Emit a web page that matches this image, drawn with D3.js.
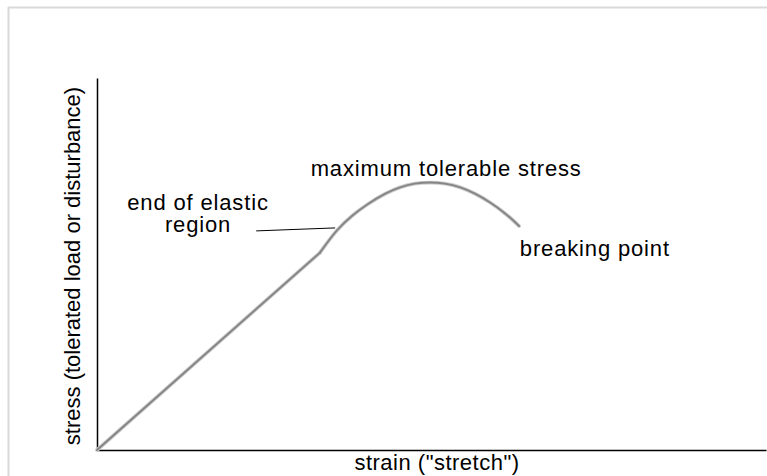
<!DOCTYPE html>
<html>
<head>
<meta charset="utf-8">
<script src="https://cdn.jsdelivr.net/npm/d3@7"></script>
<style>
  html, body { margin: 0; padding: 0; background: #fff; }
  svg { display: block; }
  text { font-family: "Liberation Sans", Arial, Helvetica, sans-serif; fill: #000; }
</style>
</head>
<body>
<svg id="chart" width="767" height="476"></svg>
<script>
// ---- data (strain vs stress, arbitrary units 0-100) ----
const strain = [0, 33.3, 35.9, 38.1, 40.4, 43.1, 45.3, 47.5, 49.8, 52.0, 54.3, 56.5, 58.7, 61.0, 63.1];
const stress = [0, 53.0, 59.1, 62.9, 66.0, 68.9, 70.6, 71.6, 71.9, 71.6, 70.6, 68.9, 66.6, 63.6, 60.2];
const elasticEnd = 1; // index where the straight (elastic) part ends
const xLabel = 'strain ("stretch")';
const yLabel = "stress (tolerated load or disturbance)";
const annotations = [
  { lines: ["maximum tolerable stress"], x: 52.2, y: 73.7, anchor: "middle" },
  { lines: ["end of elastic", "region"], x: 15.1, y: 64.5, anchor: "middle" },
  { lines: ["breaking point"], x: 63.2, y: 52.2, anchor: "start" }
];
const leader = { x1: 23.8, y1: 58.9, x2: 35.6, y2: 59.7 };

const svg = d3.select("#chart");
const W = 767, H = 476;
const m = { left: 97, right: 1, top: 78, bottom: 26 };

const x = d3.scaleLinear().domain([0, 100]).range([m.left, W - m.right]);
const y = d3.scaleLinear().domain([0, 100]).range([H - m.bottom, m.top]);

// outer frame (top and left light grey edges)
svg.append("line").attr("x1", 8).attr("x2", W).attr("y1", 7.5).attr("y2", 7.5)
  .attr("stroke", "#d9d9d9").attr("stroke-width", 2);
svg.append("line").attr("x1", 8.5).attr("x2", 8.5).attr("y1", 7).attr("y2", H)
  .attr("stroke", "#d9d9d9").attr("stroke-width", 2);

// axes (no ticks)
svg.append("g").attr("transform", `translate(0,${y(0)})`)
  .call(d3.axisBottom(x).tickValues([]).tickSizeOuter(0));
svg.append("g").attr("transform", `translate(${x(0)},0)`)
  .call(d3.axisLeft(y).tickValues([]).tickSizeOuter(0));
svg.selectAll(".domain").attr("stroke", "#000").attr("stroke-width", 1.5);

// curve: straight elastic part + smooth plastic part
const pts = strain.map((d, i) => [d, stress[i]]);
const straight = d3.line().x(d => x(d[0])).y(d => y(d[1]));
const smooth = d3.line().x(d => x(d[0])).y(d => y(d[1])).curve(d3.curveCatmullRom.alpha(0.5));
const segs = [
  { data: pts.slice(0, elasticEnd + 1), gen: straight },
  { data: pts.slice(elasticEnd), gen: smooth }
];
segs.forEach(s => {
  svg.append("path").datum(s.data).attr("d", s.gen)
    .attr("fill", "none").attr("stroke", "#cccccc").attr("stroke-width", 3.8)
    .attr("stroke-linecap", "round").attr("stroke-linejoin", "round");
});
segs.forEach(s => {
  svg.append("path").datum(s.data).attr("d", s.gen)
    .attr("fill", "none").attr("stroke", "#858585").attr("stroke-width", 1.9)
    .attr("stroke-linecap", "round").attr("stroke-linejoin", "round");
});

// leader line
svg.append("line")
  .attr("x1", x(leader.x1)).attr("y1", y(leader.y1))
  .attr("x2", x(leader.x2)).attr("y2", y(leader.y2))
  .attr("stroke", "#000").attr("stroke-width", 1);

// annotations
const fs = 22;
annotations.forEach(a => {
  const t = svg.append("text").attr("x", x(a.x)).attr("y", y(a.y))
    .attr("text-anchor", a.anchor).style("font-size", fs + "px")
    .style("letter-spacing", "0.85px");
  a.lines.forEach((l, i) => {
    t.append("tspan").attr("x", x(a.x)).attr("dy", i === 0 ? 0 : 22).text(l);
  });
});

// axis labels
svg.append("text").attr("x", 437).attr("y", 470).attr("text-anchor", "middle")
  .style("font-size", fs + "px").style("letter-spacing", "0.5px").text(xLabel);
svg.append("text").attr("transform", `translate(80,266) rotate(-90)`)
  .attr("text-anchor", "middle").style("font-size", fs + "px").text(yLabel);
</script>
</body>
</html>
